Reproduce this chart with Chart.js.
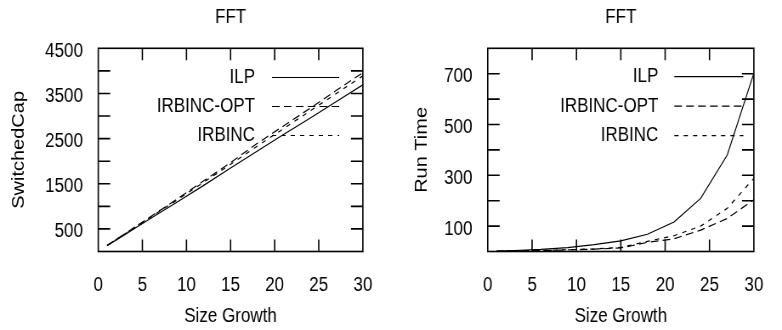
<!DOCTYPE html>
<html>
<head>
<meta charset="utf-8">
<script src="https://cdn.jsdelivr.net/npm/chart.js@4.4.1/dist/chart.umd.min.js"></script>
<style>
  html, body { margin: 0; padding: 0; background: #fff; overflow: hidden; }
  #wrap { position: relative; width: 782px; height: 330px; }
  /* the original figure is a horizontally squeezed plot, so draw wider and squeeze */
  .box { position: absolute; top: 0; width: 460px; height: 330px;
         transform: scaleX(0.85); transform-origin: 0 0; }
</style>
</head>
<body>
<div id="wrap">
  <div class="box" style="left:0"><canvas id="capChart"></canvas></div>
  <div class="box" style="left:391px"><canvas id="timeChart"></canvas></div>
</div>
<script>
// x values (size growth)
const sizes = [1, 3, 6, 9, 12, 15, 18, 21, 24, 27, 30];
const seriesNames = ["ILP", "IRBINC-OPT", "IRBINC"];

// switched capacitance
const capILP    = [130, 370, 740, 1100, 1470, 1850, 2220, 2590, 2950, 3320, 3690];
const capOPT    = [135, 390, 780, 1170, 1570, 1970, 2390, 2780, 3170, 3570, 3960];
const capIRBINC = [135, 385, 770, 1150, 1540, 1930, 2330, 2720, 3110, 3500, 3890];

// run time
const timeILP    = [2, 4, 8, 15, 27, 42, 68, 116, 209, 380, 702];
const timeOPT    = [1, 2, 4, 6, 9, 14, 36, 50, 84, 130, 204];
const timeIRBINC = [1, 2, 4, 7, 10, 16, 40, 62, 100, 170, 288];

const capLabelTicks = [500, 1500, 2500, 3500, 4500];
const timeLabelTicks = [100, 300, 500, 700];

const FONT = "'Liberation Sans', Arial, sans-serif";
const dashes = [[], [9, 5], [5, 6]];

function pts(vals) {
  return sizes.map((x, i) => ({ x: x, y: vals[i] }));
}

function makeSets(list) {
  return list.map((vals, i) => ({
    label: seriesNames[i],
    data: pts(vals),
    borderColor: "#000",
    borderWidth: 1.2,
    borderDash: dashes[i],
    pointRadius: 0,
    tension: 0,
    fill: false
  }));
}

// gnuplot style frame with inward ticks on all sides
const framePlugin = {
  id: "frame",
  afterDatasetsDraw(chart) {
    const { ctx, chartArea: a, scales } = chart;
    ctx.save();
    ctx.strokeStyle = "#000";
    ctx.lineWidth = 1.6;
    ctx.setLineDash([]);
    ctx.strokeRect(a.left, a.top, a.right - a.left, a.bottom - a.top);
    ctx.beginPath();
    scales.y.ticks.forEach(t => {
      if (t.value <= scales.y.min || t.value >= scales.y.max) return;
      const py = scales.y.getPixelForValue(t.value);
      ctx.moveTo(a.left, py); ctx.lineTo(a.left + 14, py);
      ctx.moveTo(a.right, py); ctx.lineTo(a.right - 14, py);
    });
    scales.x.ticks.forEach(t => {
      if (t.value <= scales.x.min || t.value >= scales.x.max) return;
      const px = scales.x.getPixelForValue(t.value);
      ctx.moveTo(px, a.bottom); ctx.lineTo(px, a.bottom - 12);
      ctx.moveTo(px, a.top); ctx.lineTo(px, a.top + 12);
    });
    ctx.stroke();
    ctx.restore();
  }
};

// key drawn inside the plot: text right aligned, sample line to its right
const keyPlugin = {
  id: "key",
  afterDatasetsDraw(chart, args, opts) {
    const { ctx } = chart;
    ctx.save();
    ctx.font = "20px " + FONT;
    ctx.fillStyle = "#000";
    ctx.textAlign = "right";
    ctx.textBaseline = "middle";
    chart.data.datasets.forEach((ds, i) => {
      const y = opts.top + i * opts.gap;
      ctx.fillText(ds.label, opts.textRight, y);
      ctx.beginPath();
      ctx.lineWidth = ds.borderWidth;
      ctx.strokeStyle = "#000";
      ctx.setLineDash(ds.borderDash);
      ctx.moveTo(opts.lineFrom, y);
      ctx.lineTo(opts.lineTo, y);
      ctx.stroke();
    });
    ctx.restore();
  }
};

function makeChart(id, sets, cfg) {
  return new Chart(document.getElementById(id), {
    type: "line",
    data: { datasets: makeSets(sets) },
    plugins: [framePlugin, keyPlugin],
    options: {
      responsive: true,
      maintainAspectRatio: false,
      animation: false,
      layout: { padding: { left: 0, right: cfg.padRight, top: 0, bottom: 0 } },
      plugins: {
        legend: { display: false },
        tooltip: { enabled: false },
        title: {
          display: true, text: "FFT", fullSize: false, color: "#000",
          font: { family: FONT, size: 20, weight: "normal" },
          padding: { top: 5, bottom: 19.3 }
        },
        key: cfg.key
      },
      scales: {
        x: {
          type: "linear", min: 0, max: 30,
          grid: { display: false, drawTicks: false },
          border: { display: false },
          afterFit: s => { s.height = 78.5; },
          ticks: { stepSize: 5, autoSkip: false, padding: 22, color: "#000",
                   maxRotation: 0, font: { family: FONT, size: 20 } },
          title: { display: true, text: "Size Growth", color: "#000",
                   font: { family: FONT, size: 20 }, padding: { top: 0, bottom: 2 } }
        },
        y: {
          min: 0, max: cfg.max,
          grid: { display: false, drawTicks: false },
          border: { display: false },
          afterFit: s => { s.width = cfg.axisWidth; },
          ticks: {
            stepSize: cfg.step, autoSkip: false, padding: 18, labelOffset: 3, color: "#000",
            font: { family: FONT, size: 20 },
            callback: v => cfg.labels.includes(v) ? String(v) : ""
          },
          title: { display: true, text: cfg.yTitle, color: "#000",
                   font: { family: FONT, size: 20 }, padding: { top: cfg.titlePad, bottom: 0 } }
        }
      }
    }
  });
}

makeChart("capChart", [capILP, capOPT, capIRBINC], {
  max: 4500, step: 500, labels: capLabelTicks, yTitle: "SwitchedCap",
  axisWidth: 115.6, padRight: 27, titlePad: 10.9,
  key: { textRight: 300, lineFrom: 320, lineTo: 399, top: 77.5, gap: 29 }
});

makeChart("timeChart", [timeILP, timeOPT, timeIRBINC], {
  max: 800, step: 100, labels: timeLabelTicks, yTitle: "Run Time",
  axisWidth: 113.8, padRight: 12.1, titlePad: 24.1,
  key: { textRight: 314.5, lineFrom: 333.3, lineTo: 414.5, top: 76.7, gap: 29.5 }
});
</script>
</body>
</html>
